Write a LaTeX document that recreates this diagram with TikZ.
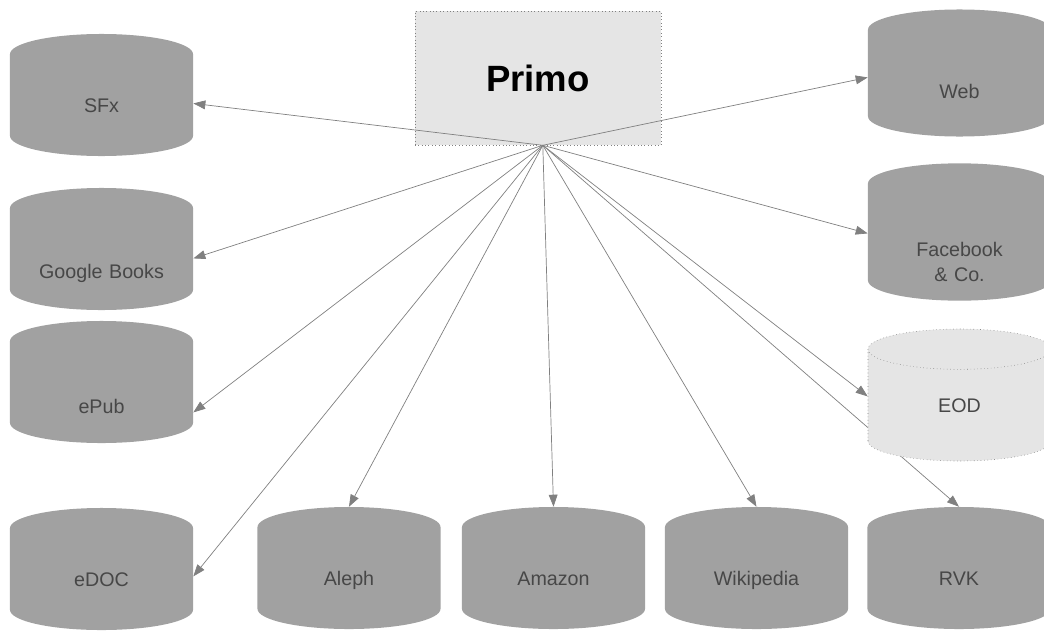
\documentclass[tikz,border=0pt]{standalone}
\usepackage{fontspec}
\setmainfont{Liberation Sans}
\usetikzlibrary{shapes.geometric,arrows.meta}
\pgfdeclarelayer{back}
\pgfdeclarelayer{lines}
\pgfsetlayers{back,lines,main}

\definecolor{dbgray}{gray}{0.63}
\definecolor{lightgray}{gray}{0.9}
\definecolor{linegray}{gray}{0.5}
\definecolor{labelgray}{gray}{0.28}

\begin{document}
\begin{tikzpicture}[x=0.025cm,y=-0.025cm,
		db/.style={cylinder,shape border rotate=90,aspect=0.25,anchor=shape center,
			fill=dbgray,minimum width=4.575cm,minimum height=3.05cm,text=labelgray,
			font=\fontsize{14}{18}\selectfont,text width=3.8cm,align=center},
		dbone/.style={db,text height=1.4ex,text depth=0.4ex},
		eodbox/.style={dbone,fill=lightgray,draw=linegray,dotted},
		feed/.style={draw=linegray,line width=0.5pt,
			-{Triangle[length=0.3cm,width=0.22cm,fill=linegray]}}
	]
	\useasboundingbox (0,0) rectangle (1044,631);

	\begin{pgfonlayer}{back}
		\node [draw=linegray,dotted,fill=lightgray,minimum width=6.15cm,minimum height=3.35cm,
			font=\fontsize{26}{31}\selectfont\bfseries] (primo) at (538,78) {Primo};
	\end{pgfonlayer}
	\coordinate (hub) at ([xshift=0.12cm]primo.south);

	% left column
	\node [dbone] (sfx) at (101.5,95) {SFx};
	\node [dbone,text height=0.86cm] (gbooks) at (101.5,249) {Google Books};
	\node [dbone,text height=0.96cm] (epub) at (101.5,382) {ePub};
	\node [dbone] (edoc) at (101.5,569) {eDOC};

	% bottom row
	\node [dbone] (aleph) at (349,568) {Aleph};
	\node [dbone] (amazon) at (553.5,568) {Amazon};
	\node [dbone] (wiki) at (756.5,568) {Wikipedia};
	\node [dbone] (rvk) at (959,568) {RVK};

	% right column
	\node [dbone,text height=0.66cm,minimum height=3.175cm] (web) at (959.5,73) {Web};
	\node [db,minimum height=3.3cm] (fb) at (959.5,232) {\rule{0pt}{1.2cm}Facebook\\\& Co.};
	\node [eodbox,minimum height=3.3cm] (eod) at (959.5,395) {EOD};

	\begin{pgfonlayer}{lines}
		\draw [feed] (hub) -- ([yshift=0.125cm]sfx.east);
		\draw [feed] (hub) -- ([yshift=0.1cm]gbooks.east);
		\draw [feed] (hub) -- ([yshift=-0.425cm]epub.east);
		\draw [feed] (hub) -- ([yshift=0.15cm]edoc.east);
		\draw [feed] (hub) -- (aleph.north);
		\draw [feed] (hub) -- (amazon.north);
		\draw [feed] (hub) -- (wiki.north);
		\draw [feed] (hub) -- (rvk.north);
		\draw [feed] (hub) -- ([yshift=0.225cm]web.west);
		\draw [feed] (hub) -- ([yshift=0.3cm]fb.west);
		\draw [feed] (hub) -- ([yshift=0.3cm]eod.west);
	\end{pgfonlayer}
\end{tikzpicture}
\end{document}
